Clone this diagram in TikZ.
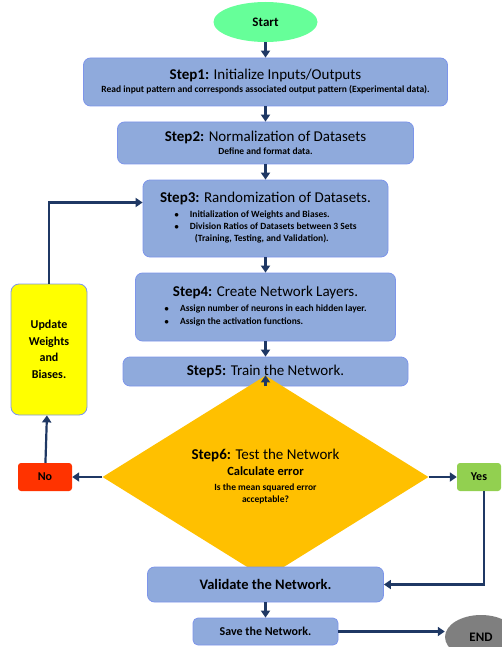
\documentclass[tikz,border=0pt]{standalone}
\usepackage{fontspec}
\setmainfont{Carlito}
\usetikzlibrary{arrows.meta, positioning, shapes.geometric}
\definecolor{stepfill}{HTML}{8FAADC}
\definecolor{stepline}{HTML}{7D95EA}
\definecolor{flowline}{HTML}{1F3864}
\definecolor{startfill}{HTML}{66FF99}
\definecolor{testfill}{HTML}{FFC000}
\definecolor{nofill}{HTML}{FF3300}
\definecolor{yesfill}{HTML}{92D050}
\definecolor{updfill}{HTML}{FFFF00}
\definecolor{endfill}{HTML}{7F7F7F}
\newcommand{\titlefont}{\fontsize{15}{18}\selectfont}
\newcommand{\notefont}{\fontsize{9.5}{12}\selectfont\bfseries}
\newcommand{\steplbl}[1]{\textbf{#1}}
\begin{document}
\begin{tikzpicture}[
      x=1pt, y=-1pt, >=Stealth,
      stepbox/.style={draw=stepline, fill=stepfill, line width=0.8pt,
        rounded corners=7pt, align=center, inner sep=2pt},
      term/.style={ellipse, draw=none, inner sep=0pt, font=\fontsize{13}{15}\selectfont\bfseries},
      flagbox/.style={draw=none, rounded corners=3pt, font=\fontsize{12}{14}\selectfont\bfseries},
      flow/.style={-{Triangle[length=7pt, width=9pt]}, draw=flowline, line width=2.2pt}]
    \useasboundingbox (0,0) rectangle (501,647);
    \node[term, fill=startfill, minimum width=104pt, minimum height=40pt] (start) at (265.5,22) {Start};
    \node[stepbox, minimum width=364pt, minimum height=48pt] (s1) at (265.5,82)
      {{\titlefont\steplbl{Step1:} Initialize Inputs/Outputs}\\[1pt]
       {\notefont Read input pattern and corresponds associated output pattern (Experimental data).}};
    \node[stepbox, minimum width=296pt, minimum height=42pt] (s2) at (265.5,143)
      {{\titlefont\steplbl{Step2:} Normalization of Datasets}\\[1pt]
       {\notefont Define and format data.}};
    \node[stepbox, minimum width=245pt, minimum height=77pt] (s3) at (265.5,218.5)
      {{\titlefont\steplbl{Step3:} Randomization of Datasets.}\\[3pt]
       {\notefont\begin{tabular}{@{}l@{\hspace{11pt}}l@{}}
         $\bullet$ & Initialization of Weights and Biases.\\
         $\bullet$ & Division Ratios of Datasets between 3 Sets\\
                   & \hspace{5pt}(Training, Testing, and Validation).
       \end{tabular}}};
    \node[stepbox, minimum width=260pt, minimum height=68pt] (s4) at (265.5,307)
      {{\titlefont\steplbl{Step4:} Create Network Layers.}\\[3pt]
       {\notefont\begin{tabular}{@{}l@{\hspace{11pt}}l@{}}
         $\bullet$ & Assign number of neurons in each hidden layer.\\[1pt]
         $\bullet$ & Assign the activation functions.
       \end{tabular}}};
    \node[stepbox, minimum width=285pt, minimum height=29pt] (s5) at (265.5,371.5)
      {\titlefont\steplbl{Step5:} Train the Network.};
    \node[diamond, fill=testfill, draw=none, inner sep=0pt, minimum width=326pt,
      minimum height=150pt, align=center] (test) at (265.5,477)
      {{\titlefont\steplbl{Step6:} Test the Network}\\[4pt]
       {\fontsize{12.5}{15}\selectfont\bfseries Calculate error}\\[3pt]
       {\notefont Is the mean squared error}\\
       {\notefont acceptable?}};
    \node[flagbox, fill=nofill, minimum width=54pt, minimum height=28pt] (no) at (45,477) {No};
    \node[flagbox, fill=yesfill, minimum width=44pt, minimum height=28pt] (yes) at (479,477) {Yes};
    \node[draw=stepline, fill=updfill, line width=0.8pt, rounded corners=8pt,
      minimum width=76pt, minimum height=131pt, align=center,
      font=\fontsize{12}{16.5}\selectfont\bfseries] (upd) at (49,349.5) {Update\\Weights\\and\\Biases.};
    \node[stepbox, minimum width=236pt, minimum height=35pt, font=\fontsize{14.5}{16}\selectfont\bfseries]
      (val) at (265.5,584.5) {Validate the Network.};
    \node[stepbox, rounded corners=5pt, minimum width=145pt, minimum height=27pt,
      font=\fontsize{12}{14}\selectfont\bfseries] (save) at (265.5,631.5) {Save the Network.};
    \node[term, fill=endfill, minimum width=72pt, minimum height=44pt] (end) at (481,637) {END};
    \draw[flow] (start) -- (s1);
    \draw[flow] (s1) -- (s2);
    \draw[flow] (s2) -- (s3);
    \draw[flow] (s3) -- (s4);
    \draw[flow] (s4) -- (s5);
    \draw[flow] (s5) -- (test);
    \draw[flow] (test.west) -- (no.east);
    \draw[flow] (test.east) -- (yes.west);
    \draw[flow] (no) -- (upd);
    \draw[flow] (upd.north) |- ([yshift=16pt]s3.west);
    \draw[flow] ([xshift=5pt]yes.south) |- (val.east);
    \draw[flow] (val) -- (save);
    \draw[flow] (save.east) -- (save.east -| end.west);
  \end{tikzpicture}
\end{document}
